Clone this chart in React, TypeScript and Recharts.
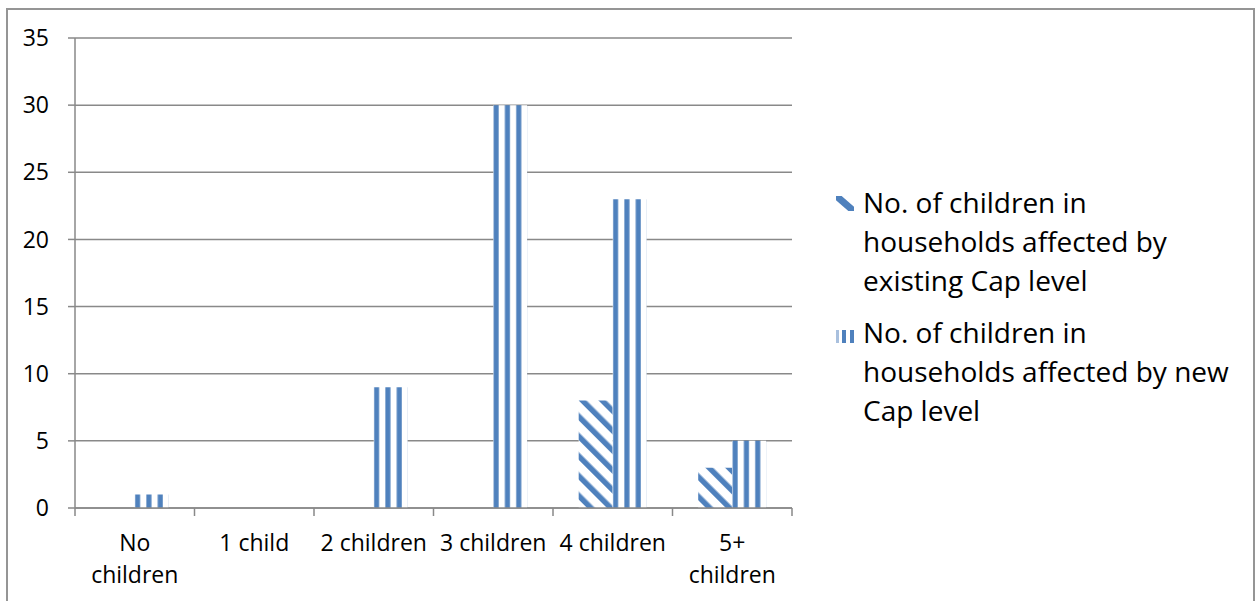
import React from 'react'
import { BarChart, Bar, XAxis, YAxis, CartesianGrid } from 'recharts'

const categories = ['No children', '1 child', '2 children', '3 children', '4 children', '5+ children']
const tickLines = [['No', 'children'], ['1 child'], ['2 children'], ['3 children'], ['4 children'], ['5+', 'children']]
const existingCap = [0, 0, 0, 0, 8, 3]
const newCap = [1, 0, 9, 30, 23, 5]
const yTicks = [0, 5, 10, 15, 20, 25, 30, 35]
const seriesNames = [
  'No. of children in\nhouseholds affected by\nexisting Cap level',
  'No. of children in\nhouseholds affected by new\nCap level',
]

const BLUE = '#4F81BD'
const GRAY = '#898989'
const FONT = '"Open Sans", sans-serif'

const data = categories.map((c, i) => ({ name: c, existing: existingCap[i], next: newCap[i] }))

// category label + boundary tick marks (Excel puts ticks between categories)
const CategoryTick = ({ x, y, payload, index, width }: any) => {
  const band = width / categories.length
  const lines = tickLines[index] || [payload.value]
  return (
    <g>
      <line x1={x - band / 2} y1={y - 10} x2={x - band / 2} y2={y - 2} stroke={GRAY} strokeWidth={1.5} />
      {index === categories.length - 1 && (
        <line x1={x + band / 2} y1={y - 10} x2={x + band / 2} y2={y - 2} stroke={GRAY} strokeWidth={1.5} />
      )}
      <text x={x} y={y} textAnchor="middle" fill="#000" fontSize={23} fontFamily={FONT}>
        {lines.map((l, i) => (
          <tspan key={i} x={x} dy={i === 0 ? 33 : 32}>{l}</tspan>
        ))}
      </text>
    </g>
  )
}

const DiagMarker = () => (
  <svg width={18} height={15} style={{ position: 'absolute', left: -27, top: 13 }}>
    <defs>
      <clipPath id="mk1"><rect x={0} y={0} width={18} height={15} /></clipPath>
    </defs>
    <g clipPath="url(#mk1)">
      <line x1={-2} y1={-2} x2={20} y2={17} stroke={BLUE} strokeWidth={7} />
    </g>
  </svg>
)

const VertMarker = () => (
  <svg width={19} height={13} style={{ position: 'absolute', left: -27, top: 17 }}>
    <rect x={0} y={0} width={3} height={13} fill="#a9c0de" />
    <rect x={6} y={0} width={4} height={13} fill={BLUE} />
    <rect x={14} y={0} width={4} height={13} fill={BLUE} />
  </svg>
)

export default function App() {
  return (
    <div style={{ position: 'absolute', left: 0, top: 0, width: 1255, height: 601, overflow: 'hidden', background: '#fff', fontFamily: FONT }}>
      <div style={{ position: 'absolute', left: 6, top: 8, width: 1245, height: 700, border: `2px solid #959595` }} />
      <BarChart
        width={1255}
        height={601}
        data={data}
        margin={{ top: 38, right: 463, bottom: 0, left: 15 }}
        barCategoryGap="21.5%"
        barGap={0}
        style={{ position: 'absolute', left: 0, top: 0 }}
      >
        <defs>
          <pattern id="vstripe" patternUnits="objectBoundingBox" width={1 / 3} height={1} patternContentUnits="objectBoundingBox">
            <rect x={0} y={0} width={1 / 3} height={1} fill="#fff" />
            <rect x={0.01} y={0} width={0.15} height={1} fill={BLUE} />
          </pattern>
          <pattern id="dstripe" patternUnits="userSpaceOnUse" width={14} height={14} patternTransform="rotate(-45)">
            <rect x={0} y={0} width={14} height={14} fill="#fff" />
            <rect x={0} y={0} width={5.5} height={14} fill={BLUE} />
          </pattern>
        </defs>
        <CartesianGrid vertical={false} stroke={GRAY} strokeWidth={1.5} />
        <XAxis
          dataKey="name"
          height={93}
          axisLine={{ stroke: GRAY, strokeWidth: 1.5 }}
          tickLine={{ stroke: 'transparent' }}
          tickSize={8}
          tickMargin={2}
          interval={0}
          tick={<CategoryTick />}
        />
        <YAxis
          width={60}
          domain={[0, 35]}
          ticks={yTicks}
          interval={0}
          axisLine={{ stroke: GRAY, strokeWidth: 1.5 }}
          tickLine={{ stroke: GRAY, strokeWidth: 1.5 }}
          tickSize={7}
          tickMargin={19}
          tick={{ fill: '#000', fontSize: 23, fontFamily: FONT }}
        />
        <Bar dataKey="existing" name={seriesNames[0]} fill="url(#dstripe)" isAnimationActive={false} />
        <Bar dataKey="next" name={seriesNames[1]} fill="url(#vstripe)" isAnimationActive={false} />
      </BarChart>
      <div style={{ position: 'absolute', left: 863, top: 183, fontSize: 28, lineHeight: '39px', color: '#000', whiteSpace: 'pre-line' }}>
        <div style={{ position: 'relative' }}>
          <DiagMarker />
          {seriesNames[0]}
        </div>
        <div style={{ position: 'relative', marginTop: 13 }}>
          <VertMarker />
          {seriesNames[1]}
        </div>
      </div>
    </div>
  )
}
